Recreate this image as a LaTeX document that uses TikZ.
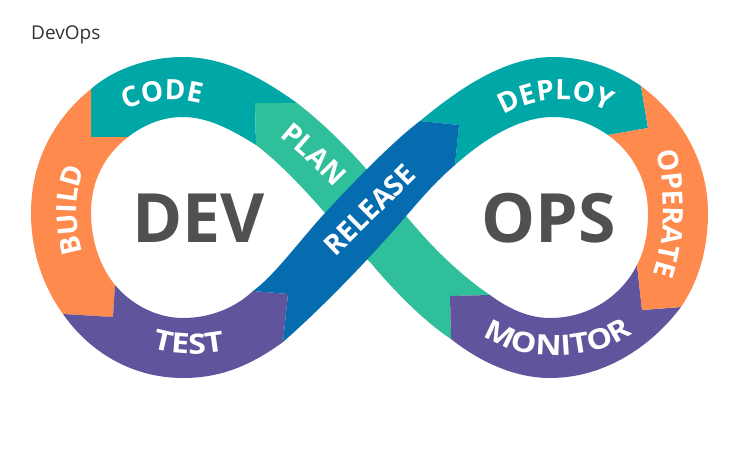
\documentclass[tikz,border=0pt]{standalone}
\usepackage{fontspec}
\setmainfont{Open Sans}
\newfontfamily\lblfont{Open Sans}
\newfontfamily\lblwidefont{Open Sans}[FakeStretch=1.15]
\usetikzlibrary{decorations.text}
\definecolor{cteal}{RGB}{0,167,167}
\definecolor{cgreen}{RGB}{47,191,155}
\definecolor{cblue}{RGB}{6,108,176}
\definecolor{corange}{RGB}{254,138,77}
\definecolor{cpurple}{RGB}{96,84,156}
\definecolor{cdark}{RGB}{80,80,80}
\newcommand{\lblfmt}{\lblfont\bfseries\fontsize{28}{28}\selectfont\color{white}}
\newcommand{\lblwidefmt}{\lblwidefont\bfseries\fontsize{28}{28}\selectfont\color{white}}
\tikzset{
  band/.style={line width=0pt},
  curved label/.style={decorate,decoration={text along path,text align=center,
     text={|\lblfmt|#1}}},
  wide label/.style={decorate,decoration={text along path,text align=center,
     text={|\lblwidefmt|#1}}},
  core/.style={font=\fontsize{68}{68}\selectfont\bfseries,text=cdark,anchor=base,inner sep=0pt}
}
\begin{document}
\begin{tikzpicture}[x=1pt,y=-1pt]
\useasboundingbox[fill=white] (0,0) rectangle (745,448);
\node[anchor=base west,inner sep=0pt,text=black!80,font=\fontsize{19}{19}\selectfont] (title) at (31,39) {DevOps};
% CODE
\fill[cteal,band] (91,89) .. controls (115,68) and (150,57) .. (183,57)
  .. controls (225,57) and (262,78) .. (297,103) -- (255,103) -- (256,145)
  .. controls (232,130) and (208,117) .. (183,117)
  .. controls (163,117) and (145,124) .. (128,137) -- (91,137) -- cycle;
% PLAN + lower band
\fill[cgreen,band] (255,103) -- (297,103)
  .. controls (345,140) and (380,185) .. (407,217)
  .. controls (430,245) and (460,275) .. (490,295)
  -- (450,296) -- (451,339)
  .. controls (425,322) and (395,292) .. (370,262)
  .. controls (355,248) and (340,230) .. (325,213)
  .. controls (305,190) and (280,163) .. (256,145) -- cycle;
% BUILD
\fill[corange,band] (91,89) .. controls (55,118) and (31,160) .. (31,213)
  .. controls (31,250) and (42,285) .. (63,314) -- (113,317) -- (115,285)
  .. controls (100,267) and (91,240) .. (91,213)
  .. controls (91,180) and (105,155) .. (128,137) -- (91,137) -- cycle;
% TEST
\fill[cpurple,band] (63,314) -- (113,317) -- (115,285)
  .. controls (130,303) and (155,318) .. (183,318)
  .. controls (210,318) and (235,308) .. (253,291) -- (288,294) -- (283,342)
  .. controls (250,366) and (220,378) .. (183,378)
  .. controls (130,378) and (88,350) .. (63,314) -- cycle;
% MONITOR
\fill[cpurple,band] (450,296) -- (490,295)
  .. controls (510,310) and (530,318) .. (550,318)
  .. controls (590,318) and (622,295) .. (637,265) -- (642,310) -- (681,307)
  .. controls (650,348) and (603,378) .. (550,378)
  .. controls (515,378) and (480,362) .. (451,339) -- cycle;
% DEPLOY
\fill[cteal,band] (420,121) .. controls (460,88) and (505,57) .. (553,57)
  .. controls (585,57) and (615,68) .. (641,86) -- (648,128) -- (608,135)
  .. controls (592,124) and (575,117) .. (553,117)
  .. controls (520,117) and (485,138) .. (455,165) -- (459,125) -- cycle;
% OPERATE
\fill[corange,band] (641,86) .. controls (680,115) and (708,160) .. (708,213)
  .. controls (708,250) and (698,282) .. (681,307) -- (642,310) -- (637,265)
  .. controls (645,250) and (648,232) .. (648,213)
  .. controls (648,180) and (632,152) .. (608,135) -- (648,128) -- cycle;
% RELEASE
\fill[cblue,band] (420,121) -- (459,125) -- (455,165)
  .. controls (435,182) and (420,200) .. (407,215)
  .. controls (370,258) and (325,305) .. (283,342)
  -- (288,294) -- (253,291)
  .. controls (275,275) and (300,240) .. (325,213)
  .. controls (360,175) and (395,140) .. (420,121) -- cycle;
% labels on the bands
\path[curved label=CODE] (120,113) .. controls (145,99) and (180,96) .. (207,106);
\path[curved label=PLAN] (281,138) .. controls (298,152) and (316,168) .. (333,186);
\path[curved label=RELEASE] (337,256) .. controls (362,232) and (390,204) .. (416,178);
\path[curved label=DEPLOY] (503,116) .. controls (535,96) and (578,94) .. (610,112);
\path[curved label=OPERATE] (655,145) .. controls (666,185) and (668,235) .. (651,281);
\path[curved label=BUILD] (84,256) .. controls (74,225) and (74,195) .. (86,165);
\path[wide label=TEST] (155,349) .. controls (175,355) and (200,355) .. (222,351);
\path[wide label=MONITOR] (480,333) .. controls (515,362) and (595,364) .. (636,331);
% centre words
\node[core] (dev) at (198.5,242) {DEV};
\node[core] (ops) at (548.5,242) {OPS};
\end{tikzpicture}
\end{document}
